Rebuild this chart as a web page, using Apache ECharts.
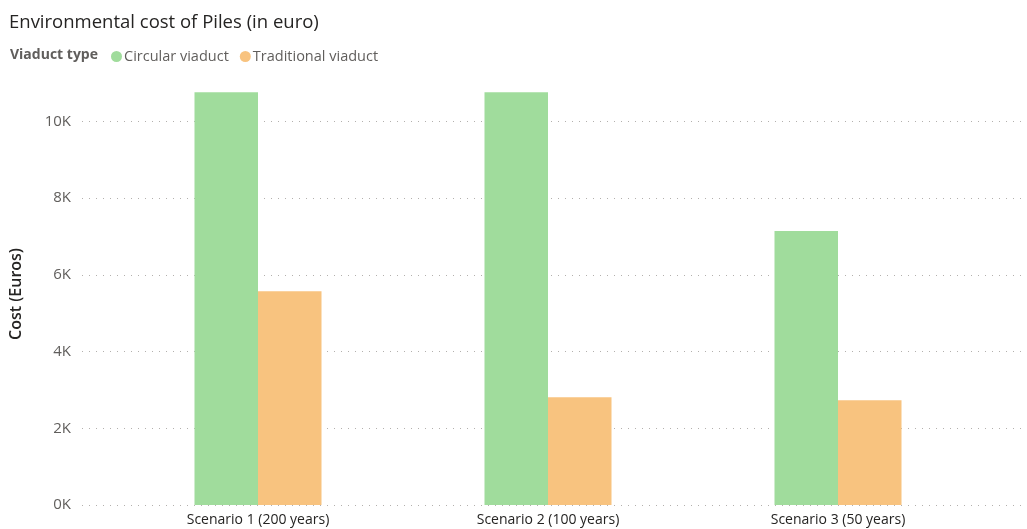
<!DOCTYPE html>
<html>
<head>
<meta charset="utf-8">
<style>
  html, body { margin: 0; padding: 0; background: #ffffff; }
  #chart { width: 1027px; height: 529px; }
</style>
<script src="https://cdn.jsdelivr.net/npm/echarts@6/dist/echarts.min.js"></script>
</head>
<body>
<div id="chart"></div>
<script>
// Scenario categories and cost per viaduct type (euros)
const categories = ['Scenario 1 (200 years)', 'Scenario 2 (100 years)', 'Scenario 3 (50 years)'];
const circularViaduct = [10760, 10760, 7140];
const traditionalViaduct = [5570, 2810, 2730];
const seriesNames = ['Circular viaduct', 'Traditional viaduct'];
const legendTitle = 'Viaduct type';

const FONT = '"Open Sans", "Noto Sans", sans-serif';
const yMax = 11000;

const chart = echarts.init(document.getElementById('chart'));

chart.setOption({
  animation: false,
  color: ['#A0DC9C', '#F8C37F'],
  title: {
    text: 'Environmental cost of Piles (in euro)',
    left: 4,
    top: 8,
    textStyle: { fontFamily: FONT, fontSize: 18.5, fontWeight: 'normal', color: '#252423' }
  },
  graphic: [{
    type: 'text',
    left: 10,
    top: 48,
    style: { text: legendTitle, font: 'bold 14px ' + FONT, fill: '#605E5C' }
  }],
  legend: {
    left: 111,
    top: 49,
    icon: 'circle',
    itemWidth: 11,
    itemHeight: 11,
    itemGap: 11,
    padding: 0,
    textStyle: { fontFamily: FONT, fontSize: 14.5, color: '#605E5C', padding: [0, 0, 0, -3] },
    data: seriesNames
  },
  grid: [
    // grid holding the value scale and dotted gridlines
    { left: 78, right: 5, top: 83, bottom: 24 },
    // grid holding the bars and category labels
    { left: 113, right: 44, top: 83, bottom: 24 }
  ],
  xAxis: [
    { type: 'category', gridIndex: 0, data: categories, show: false },
    {
      type: 'category',
      gridIndex: 1,
      data: categories,
      axisLine: { show: false },
      axisTick: { show: false },
      axisLabel: { fontFamily: FONT, fontSize: 14, fontWeight: 500, color: '#252423', margin: 8 }
    }
  ],
  yAxis: [
    {
      type: 'value',
      gridIndex: 0,
      min: 0,
      max: yMax,
      interval: 2000,
      name: 'Cost (Euros)',
      nameLocation: 'middle',
      nameGap: 58,
      nameTextStyle: { fontFamily: FONT, fontSize: 16, fontWeight: 600, color: '#252423' },
      axisLine: { show: false },
      axisTick: { show: false },
      axisLabel: {
        fontFamily: FONT,
        fontSize: 15,
        color: '#605E5C',
        margin: 11,
        showMaxLabel: false,
        formatter: v => (v % 2000 === 0 ? (v / 1000) + 'K' : '')
      },
      splitLine: {
        show: true,
        showMaxLine: false,
        lineStyle: { color: '#B3B0AD', width: 1, type: [1, 6] }
      }
    },
    { type: 'value', gridIndex: 1, min: 0, max: yMax, show: false, splitLine: { show: false } }
  ],
  series: [
    {
      name: seriesNames[0],
      type: 'bar',
      xAxisIndex: 1,
      yAxisIndex: 1,
      data: circularViaduct,
      barWidth: 63.5,
      barGap: '0%'
    },
    {
      name: seriesNames[1],
      type: 'bar',
      xAxisIndex: 1,
      yAxisIndex: 1,
      data: traditionalViaduct,
      barWidth: 63.5,
      barGap: '0%'
    }
  ]
});
</script>
</body>
</html>
